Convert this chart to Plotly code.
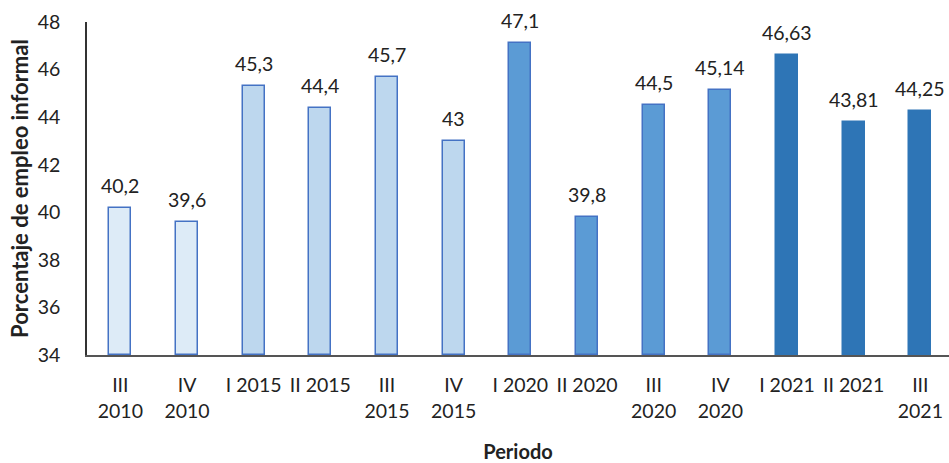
import plotly.graph_objects as go

# Informal employment share by quarter
periods = ["III<br>2010", "IV<br>2010", "I 2015", "II 2015", "III<br>2015", "IV<br>2015",
           "I 2020", "II 2020", "III<br>2020", "IV<br>2020", "I 2021", "II 2021", "III<br>2021"]
values = [40.2, 39.6, 45.3, 44.4, 45.7, 43.0, 47.1, 39.8, 44.5, 45.14, 46.63, 43.81, 44.25]
value_labels = ["40,2", "39,6", "45,3", "44,4", "45,7", "43", "47,1", "39,8",
                "44,5", "45,14", "46,63", "43,81", "44,25"]

# Shade groups by year block
fill_colors = ["#DDEBF7"] * 2 + ["#BDD7EE"] * 4 + ["#5B9BD5"] * 4 + ["#2E75B6"] * 3
line_colors = ["#4472C4"] * 10 + ["#2E75B6"] * 3

FONT = "Lato, 'Open Sans', sans-serif"
TXT = "#222222"
Y0 = 34

fig = go.Figure()
fig.add_trace(go.Bar(
    x=list(range(len(periods))),
    y=[v - Y0 for v in values],
    base=Y0,
    width=0.33,
    marker=dict(color=fill_colors, line=dict(color=line_colors, width=1.5)),
    hoverinfo="skip",
))

for i, (v, lab) in enumerate(zip(values, value_labels)):
    fig.add_annotation(x=i, y=v, text=lab, showarrow=False, yanchor="bottom",
                       yshift=9, font=dict(family=FONT, size=19.5, color=TXT))

fig.update_layout(
    width=949, height=463,
    margin=dict(l=87, r=0, t=22, b=106),
    paper_bgcolor="white", plot_bgcolor="white",
    showlegend=False,
    font=dict(family=FONT, size=19.5, color=TXT),
    bargap=0,
)
fig.update_xaxes(
    range=[-0.5, 12.43],
    tickmode="array", tickvals=list(range(len(periods))), ticktext=periods,
    showgrid=False, zeroline=False,
    showline=True, linecolor="#555555", linewidth=1.5,
    ticks="", ticklabelstandoff=12,
    tickfont=dict(family=FONT, size=19.5, color=TXT),
    title=dict(text="<b>Periodo</b>", font=dict(family=FONT, size=20, color=TXT), standoff=27),
)
fig.update_yaxes(
    range=[Y0, 48], tickvals=[34, 36, 38, 40, 42, 44, 46, 48],
    showgrid=False, zeroline=False,
    showline=True, linecolor="#333333", linewidth=1.5,
    ticks="", ticklabelstandoff=21,
    tickfont=dict(family=FONT, size=19.5, color=TXT),
    title=dict(text="<b>Porcentaje de empleo informal</b>", font=dict(family=FONT, size=22, color=TXT), standoff=3),
)

fig.write_html("out.html")
